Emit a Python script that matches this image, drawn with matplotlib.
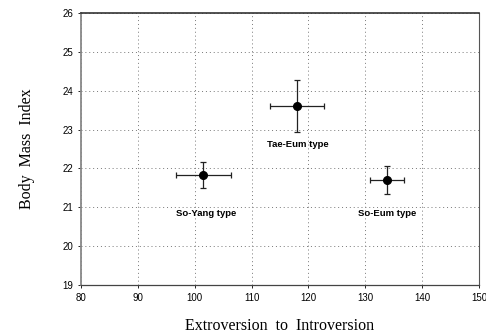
import numpy as np
import matplotlib.pyplot as plt

# 체질별 평균과 표준오차
types = ['So-Yang type', 'Tae-Eum type', 'So-Eum type']
extro = [101.5, 118.0, 133.8]
extro_err = [4.8, 4.7, 3.0]
bmi = [21.83, 23.61, 21.70]
bmi_err = [0.33, 0.67, 0.37]

fig = plt.figure(figsize=(4.86, 3.34), dpi=100)
ax = fig.add_axes([0.1667, 0.1467, 0.819, 0.8143])

ax.errorbar(extro, bmi, xerr=extro_err, yerr=bmi_err, fmt='o', color='black',
            ms=5.5, elinewidth=0.9, capsize=2.5, capthick=0.9, ecolor='#222222', zorder=3)

# 라벨은 점 아래쪽
label_off = [-0.98, -1.0, -0.85]
label_dx = [0.5, 0.2, 0.0]
for t, x, y, dy, dx in zip(types, extro, bmi, label_off, label_dx):
    ax.text(x + dx, y + dy, t, ha='center', va='center', fontsize=6.8,
            fontweight='bold', family='Liberation Sans')

ax.set_xlim(80, 150)
ax.set_ylim(19, 26)
ax.set_xticks(np.arange(80, 151, 10))
ax.set_yticks(np.arange(19, 27, 1))
ax.grid(True, linestyle=(0, (1, 3)), color='#777777', linewidth=0.7)
ax.tick_params(labelsize=7, length=2, width=0.6)
for lab in ax.get_xticklabels() + ax.get_yticklabels():
    lab.set_family('Liberation Sans')

ax.spines['left'].set_color('#888888')
ax.spines['left'].set_linewidth(1.3)
ax.spines['top'].set_color('#333333')
ax.spines['top'].set_linewidth(1.2)
ax.spines['bottom'].set_color('#444444')
ax.spines['bottom'].set_linewidth(0.9)
ax.spines['right'].set_linestyle((0, (1, 1)))
ax.spines['right'].set_color('#555555')

ax.set_xlabel('Extroversion  to  Introversion', family='Liberation Serif',
              fontsize=11.5, labelpad=11)
ax.set_ylabel('Body  Mass  Index', family='Liberation Serif', fontsize=11.5,
              labelpad=20)

fig.savefig('out.png', dpi=100)
